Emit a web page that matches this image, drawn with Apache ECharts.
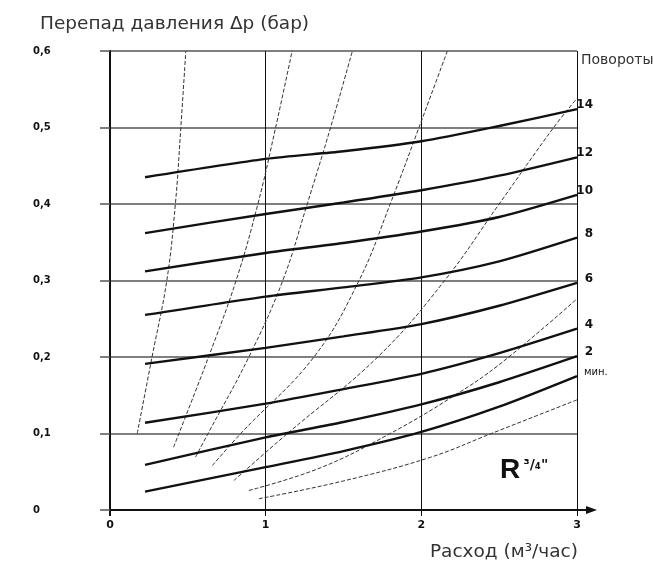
<!DOCTYPE html>
<html><head><meta charset="utf-8">
<script src="https://cdn.jsdelivr.net/npm/echarts@6/dist/echarts.min.js"></script>
<style>html,body{margin:0;padding:0;background:#fff}#c{width:653px;height:574px}</style>
</head><body><div id="c"></div>
<script>
// Tick labels
const xTickLabels = ['0', '1', '2', '3'];
const yTickLabels = ['0', '0,1', '0,2', '0,3', '0,4', '0,5', '0,6'];

// Valve setting curves (number of turns), flow points in m3/h
const turnNames = ['14', '12', '10', '8', '6', '4', '2', 'мин.'];
const turnFlow = [0.225, 1, 1.5, 2, 2.5, 3];
const turns14 = [0.435, 0.459, 0.469, 0.482, 0.502, 0.524];
const turns12 = [0.362, 0.387, 0.402, 0.418, 0.437, 0.461];
const turns10 = [0.312, 0.336, 0.349, 0.364, 0.383, 0.412];
const turns8  = [0.255, 0.279, 0.291, 0.304, 0.325, 0.356];
const turns6  = [0.191, 0.212, 0.227, 0.243, 0.267, 0.297];
const turns4  = [0.114, 0.139, 0.158, 0.178, 0.205, 0.237];
const turns2  = [0.059, 0.095, 0.115, 0.138, 0.167, 0.201];
const turnsMin = [0.024, 0.056, 0.077, 0.102, 0.135, 0.175];

// Thin system characteristic curves: [flow, pressure drop]
const sysA = [[0.175, 0.1], [0.27, 0.2], [0.365, 0.3], [0.42, 0.4], [0.455, 0.5], [0.487, 0.6]];
const sysB = [[0.408, 0.082], [0.633, 0.2], [0.81, 0.3], [0.95, 0.4], [1.064, 0.5], [1.17, 0.6]];
const sysC = [[0.549, 0.069], [0.63, 0.1], [0.892, 0.2], [1.11, 0.3], [1.267, 0.4], [1.417, 0.5], [1.557, 0.6]];
const sysD = [[0.657, 0.058], [0.84, 0.1], [1.31, 0.2], [1.6, 0.3], [1.8, 0.4], [1.985, 0.5], [2.167, 0.6]];
const sysE = [[0.796, 0.0386], [1.14, 0.1], [1.72, 0.2], [2.15, 0.3], [2.5, 0.4], [2.85, 0.5], [3, 0.538]];
const sysF = [[0.892, 0.0255], [1.35, 0.055], [1.8, 0.1], [2.2, 0.148], [2.5, 0.19], [3, 0.276]];
const sysG = [[0.956, 0.0147], [1.5, 0.038], [2.06, 0.069], [2.45, 0.1], [3, 0.144]];

const turnValues = [turns14, turns12, turns10, turns8, turns6, turns4, turns2, turnsMin];
const sysCurves = [sysA, sysB, sysC, sysD, sysE, sysF, sysG];

const FONT = 'DejaVu Sans';
const chart = echarts.init(document.getElementById('c'), null, {renderer: 'canvas'});

const series = [];
sysCurves.forEach((pts, i) => {
  series.push({
    type: 'line', name: 'sys' + i, data: pts, smooth: 0.4, symbol: 'none',
    lineStyle: {color: '#333', width: 1, type: [4, 2]}, z: 2, silent: true
  });
});
turnValues.forEach((vals, i) => {
  const isMin = turnNames[i] === 'мин.';
  series.push({
    type: 'line', name: turnNames[i],
    data: turnFlow.map((q, j) => [q, vals[j]]),
    smooth: 0.25, symbol: 'none',
    lineStyle: {color: '#111', width: 2.4}, z: 3, silent: true,
    endLabel: {
      show: true, formatter: '{a}',
      distance: isMin ? 7 : 16, align: isMin ? 'left' : 'right',
      offset: [0, -4],
      fontSize: isMin ? 10 : 12, fontWeight: isMin ? 'normal' : 'bold',
      fontFamily: FONT, color: '#111'
    }
  });
});

chart.setOption({
  backgroundColor: '#fff',
  animation: false,
  grid: {left: 110, right: 76, top: 51, bottom: 64, containLabel: false},
  xAxis: {
    type: 'value', min: 0, max: 3, interval: 1,
    axisLine: {show: true, onZero: false, lineStyle: {color: '#111', width: 2}},
    axisTick: {show: true, length: 6, lineStyle: {color: '#111', width: 1}},
    splitLine: {show: true, lineStyle: {color: '#111', width: 1}},
    axisLabel: {
      formatter: v => xTickLabels[Math.round(v)], margin: 10,
      fontSize: 11, fontWeight: 'bold', color: '#111', fontFamily: FONT
    }
  },
  yAxis: {
    type: 'value', min: 0, max: 0.6, interval: 0.1,
    axisLine: {show: true, onZero: false, lineStyle: {color: '#111', width: 2}},
    axisTick: {show: true, length: 10, lineStyle: {color: '#555', width: 1.5}},
    splitLine: {show: true, lineStyle: {color: '#555', width: 1.5}},
    axisLabel: {
      formatter: v => yTickLabels[Math.round(v * 10)], margin: 77, align: 'left',
      fontSize: 10, fontWeight: 'bold', color: '#111', fontFamily: FONT
    }
  },
  series: series
});

// Decorations placed relative to the axes
const p0 = chart.convertToPixel({gridIndex: 0}, [0, 0]);
const p3 = chart.convertToPixel({gridIndex: 0}, [3, 0]);
const pTop = chart.convertToPixel({gridIndex: 0}, [3, 0.6]);
chart.setOption({
  graphic: [
    {type: 'line', shape: {x1: p3[0], y1: p3[1], x2: p3[0] + 14, y2: p3[1]},
     style: {stroke: '#111', lineWidth: 2}},
    {type: 'polygon', shape: {points: [[p3[0] + 20, p3[1]], [p3[0] + 9, p3[1] - 4], [p3[0] + 9, p3[1] + 4]]},
     style: {fill: '#111'}},
    {type: 'line', shape: {x1: p0[0], y1: p0[1], x2: p0[0], y2: p0[1] + 6},
     style: {stroke: '#111', lineWidth: 2}},
    {type: 'text', x: 40, y: 24,
     style: {text: 'Перепад давления Δp (бар)', font: '18.5px "' + FONT + '"', fill: '#333', textVerticalAlign: 'middle'}},
    {type: 'text', x: 578, y: 552,
     style: {text: 'Расход (м³/час)', font: '18.5px "' + FONT + '"', fill: '#333', textAlign: 'right', textVerticalAlign: 'middle'}},
    {type: 'text', x: pTop[0] + 4, y: pTop[1] + 9,
     style: {text: 'Повороты', font: '14px "' + FONT + '"', fill: '#333', textVerticalAlign: 'middle'}},
    {type: 'text', x: 500, y: 484,
     style: {
       text: '{r|R} {f|³/₄"}',
       textVerticalAlign: 'bottom',
       rich: {
         r: {font: 'bold 28px "Liberation Sans"', fill: '#111'},
         f: {font: 'bold 14px "DejaVu Sans"', fill: '#111', padding: [0, 0, 9, 0]}
       }
     }}
  ]
});
</script>
</body></html>
